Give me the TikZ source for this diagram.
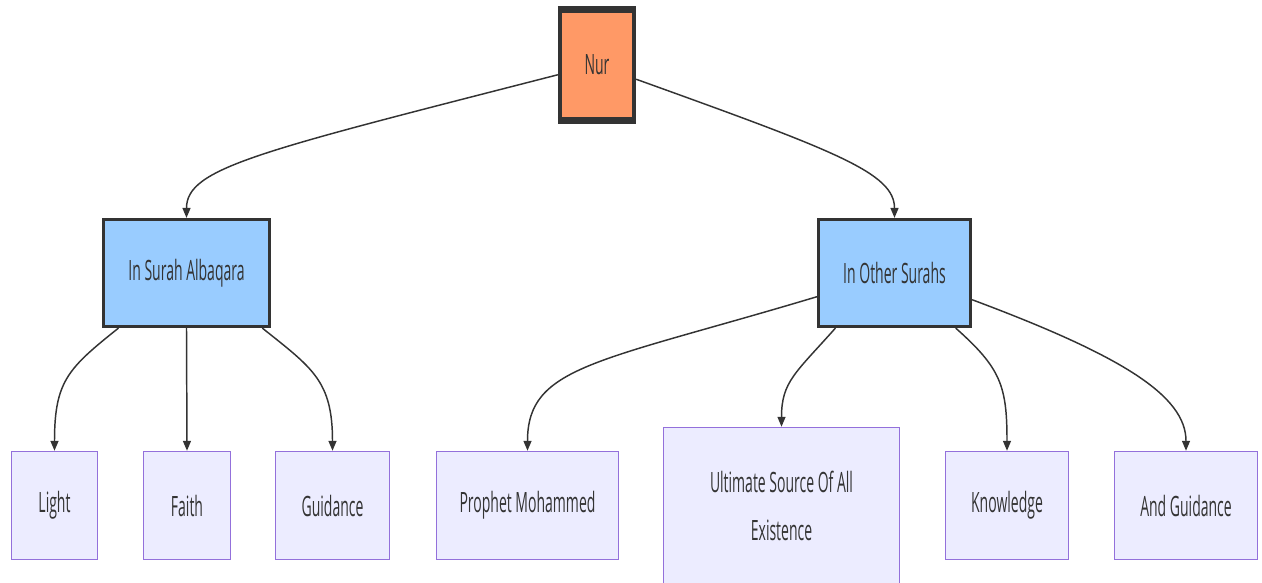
\documentclass[tikz,border=0pt]{standalone}
\usepackage{fontspec}
\setmainfont[FakeStretch=0.5]{Open Sans}
\usetikzlibrary{arrows.meta}
\begin{document}
\begin{tikzpicture}[x=0.75pt,y=0.75pt,
  box/.style={rectangle, draw=darkline, inner sep=0pt, text=textgray,
    font=\fontsize{21}{36}\selectfont, align=center},
  size/.style 2 args={minimum width=#1*0.75pt, minimum height=#2*0.75pt},
  rootbox/.style={box, fill=rootfill, line width=3.2pt},
  midbox/.style={box, fill=midfill, line width=2.4pt},
  leafbox/.style={box, fill=leaffill, draw=leafborder, line width=1.1pt},
  bar/.style={draw=darkline, line width=5.25pt},
  edge/.style={draw=darkline, line width=1.1pt, -{Triangle[length=7.5pt,width=6pt]}}]
  % Define colors
  \definecolor{darkline}{HTML}{333333}
  \definecolor{textgray}{HTML}{333333}
  \definecolor{rootfill}{HTML}{FF9966}
  \definecolor{midfill}{HTML}{99CCFF}
  \definecolor{leaffill}{HTML}{ECECFF}
  \definecolor{leafborder}{HTML}{9370DB}

  \useasboundingbox (0,0) rectangle (1262,582);

  % Root
  \node[rootbox, size={74}{110}] (nur) at (597,517) {Nur};
  \draw[bar] ([yshift=-1.1pt]nur.north west) -- ([yshift=-1.1pt]nur.north east);
  \draw[bar] ([yshift=1.1pt]nur.south west) -- ([yshift=1.1pt]nur.south east);

  % Second level
  \node[midbox, size={166}{107}] (alb) at (186.5,309) {In Surah Albaqara};
  \node[midbox, size={152}{107}] (oth) at (894.5,309) {In Other Surahs};

  % Leaves
  \node[leafbox, size={86}{108}] (light) at (54.5,76.5) {Light};
  \node[leafbox, size={87}{108}] (faith) at (187,76.5) {Faith};
  \node[leafbox, size={114}{108}] (guid) at (332.5,76.5) {Guidance};
  \node[leafbox, size={182}{108}] (proph) at (527.5,76.5) {Prophet Mohammed};
  \node[leafbox, size={236}{157}] (ult) at (781.5,76) {Ultimate Source Of All\\Existence};
  \node[leafbox, size={123}{108}] (know) at (1007,76.5) {Knowledge};
  \node[leafbox, size={143}{108}] (andg) at (1186,76.5) {And Guidance};

  % Root edges
  \draw[edge] (nur.194) .. controls +(-300,-77) and +(0,50) .. (alb.north);
  \draw[edge] (nur.-20) .. controls +(200,-72) and +(0,45) .. (oth.north);

  % Albaqara edges
  \draw[edge] (alb.219) .. controls +(-50,-40) and +(0,70) .. (light.north);
  \draw[edge] (alb.south) -- (faith.north);
  \draw[edge] (alb.-36) .. controls +(50,-40) and +(0,70) .. (guid.north);

  % Other surahs edges
  \draw[edge] (oth.197) .. controls +(-220,-66) and +(0,85) .. (proph.north);
  \draw[edge] (oth.223) .. controls +(-40,-45) and +(0,45) .. (ult.north);
  \draw[edge] (oth.-42) .. controls +(45,-40) and +(0,65) .. (know.north);
  \draw[edge] (oth.-19) .. controls +(150,-56) and +(0,55) .. (andg.north);
\end{tikzpicture}
\end{document}
